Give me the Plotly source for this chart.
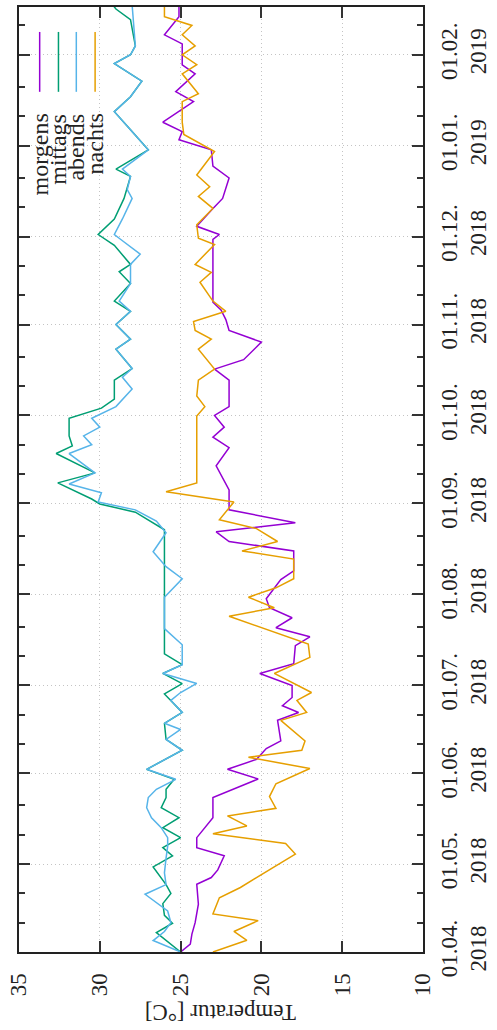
import pandas as pd
import plotly.graph_objects as go

START = "2018-04-01"
END = "2019-02-17 07:00"

# day offsets from START and temperatures (°C)
morgens_day = [0, 2.7, 6.1, 10, 16.3, 23.1, 25.4, 28, 32.8, 35.6, 39, 45.8, 52.7, 59, 62.3, 65.7, 69.4, 72, 79,
               81.7, 84, 86.8, 90.9, 95, 98.3, 104.5, 107.5, 110.6, 114, 117.4, 120.5, 127, 130, 136.8, 140,
               143.3, 146.4, 150.8, 157.6, 165.8, 172, 175.6, 179, 183, 186, 195, 198.8, 202, 208, 212, 215.7,
               219, 221.6, 243, 244.7, 247.5, 253, 257, 264, 268, 273.6, 277, 279.8, 283, 290, 293.4, 299.5,
               302.6, 309.7, 312.8, 319, 323]
morgens_temp = [25.0, 24.4, 24.3, 24.1, 23.9, 24.0, 23.1, 22.7, 22.3, 24.0, 24.0, 23.0, 23.0, 20.2, 22.1, 20.3,
                19.7, 18.8, 19.0, 17.7, 18.7, 18.1, 18.1, 20.1, 18.0, 17.9, 17.0, 19.1, 18.1, 19.5, 19.7, 18.8,
                18.0, 18.0, 22.0, 22.8, 17.9, 22.0, 22.0, 22.8, 22.0, 23.0, 22.3, 22.9, 22.0, 22.0, 22.9, 21.1,
                20.0, 22.0, 22.2, 22.5, 23.0, 23.0, 22.6, 24.0, 23.1, 22.4, 22.0, 23.0, 23.1, 25.1, 24.9, 26.1,
                24.2, 25.3, 24.1, 24.9, 24.9, 26.0, 25.1, 25.1]

mittags_day = [0, 6.6, 9.8, 12.5, 16.5, 20, 23, 29, 32.8, 35.6, 39, 42.4, 45.8, 49.2, 52.7, 55.5, 58.9, 62.3,
               68.8, 72.5, 78, 81.7, 88, 91.5, 95, 98, 101.7, 144, 150, 152.8, 154.5, 160, 163.4, 170, 172.6,
               176, 182, 185.5, 188.6, 195, 199, 205.6, 209, 214, 218.5, 222, 228, 232, 234.5, 241, 244.7, 250,
               257, 264.5, 267, 273.6, 280.4, 286.6, 291.7, 297, 303, 306, 309, 318, 321.6, 323]
mittags_temp = [25.0, 26.5, 25.5, 26.0, 26.1, 25.6, 25.9, 26.7, 25.5, 26.1, 25.0, 26.1, 25.1, 26.2, 25.9, 25.9,
                25.4, 27.1, 24.9, 25.9, 26.0, 24.9, 26.0, 24.9, 26.1, 24.9, 26.0, 26.0, 27.8, 30.0, 30.5, 32.6,
                30.3, 32.7, 31.7, 31.9, 31.9, 29.9, 29.1, 29.1, 28.0, 29.0, 28.1, 29.0, 28.1, 29.1, 28.1, 28.8,
                28.1, 29.1, 30.1, 29.1, 28.5, 28.1, 29.0, 27.0, 28.1, 29.1, 28.1, 27.4, 29.1, 28.1, 27.8, 28.1,
                29.0, 29.2]

abends_day = [0, 3.9, 7, 10, 14, 19.7, 23, 27, 32, 36, 39, 42.4, 45.8, 49.2, 52.7, 55.5, 58.9, 62.3, 68.8, 72.5,
              75.9, 78, 81.7, 85.8, 88.5, 91.6, 95, 98, 104.8, 110.3, 121, 127.3, 131.4, 136.5, 143, 147, 150.8,
              153.5, 156.6, 159.6, 163.4, 170, 173, 176, 179, 182, 186, 192, 196, 199, 205.6, 209, 214, 218.5,
              222, 228, 234.5, 238, 243, 244.7, 250, 257, 260, 264.5, 267, 273.6, 280.4, 286.6, 291.7, 297, 303,
              306, 309, 315, 321.6, 323]
abends_temp = [25.0, 26.7, 26.0, 25.6, 25.8, 27.2, 25.9, 26.0, 25.9, 25.8, 25.8, 26.2, 26.8, 27.1, 27.0, 26.5,
               25.3, 27.1, 24.9, 25.9, 25.0, 26.0, 24.9, 25.6, 25.0, 24.0, 26.1, 24.9, 24.9, 26.0, 26.0, 24.9,
               25.9, 26.7, 25.9, 26.5, 27.8, 30.1, 29.9, 31.9, 30.3, 31.9, 30.5, 31.0, 30.0, 30.5, 29.0, 28.0,
               28.6, 28.0, 29.0, 28.1, 29.0, 28.1, 28.8, 28.1, 28.1, 27.5, 28.7, 29.1, 28.6, 28.0, 28.3, 28.1,
               28.6, 27.0, 28.1, 29.1, 28.1, 27.4, 29.1, 28.1, 27.8, 27.9, 28.0, 28.0]

nachts_day = [0, 4, 7, 10.7, 13, 18.5, 22, 33.4, 37, 40.3, 43, 46.4, 49, 53, 57.4, 62.6, 66.4, 68.8, 72, 79, 81.7,
              85.8, 88.5, 95, 100.5, 105, 114.5, 117.4, 121, 124.2, 127.3, 134, 136.8, 140, 144.4, 147.4, 153.5,
              157, 160, 182.8, 186, 189.6, 195, 198.8, 205.6, 209, 212, 215, 218.5, 222, 228.4, 231.8, 234.5,
              241.3, 243.4, 248, 253.6, 257.7, 261, 265, 273, 278.8, 283, 290, 292.7, 299.5, 302.6, 306, 309,
              312.8, 316, 319, 323]
nachts_temp = [23.0, 20.9, 21.7, 20.2, 23.0, 22.6, 21.3, 17.9, 18.5, 23.0, 20.9, 22.1, 19.1, 19.5, 19.1, 17.0,
               20.8, 17.5, 17.3, 18.8, 17.2, 17.8, 16.9, 19.2, 17.0, 17.1, 22.0, 19.2, 20.8, 19.1, 18.0, 18.0,
               21.2, 19.0, 20.3, 22.6, 21.7, 25.9, 24.0, 24.0, 23.5, 24.0, 23.9, 22.9, 23.9, 23.1, 24.1, 24.2,
               22.2, 23.0, 23.8, 23.1, 24.1, 22.9, 23.9, 24.0, 23.0, 23.9, 23.2, 24.0, 22.9, 24.8, 24.9, 24.9,
               23.9, 24.9, 24.0, 24.9, 24.1, 24.9, 24.3, 26.0, 26.0]

series_names = ["morgens", "mittags", "abends", "nachts"]
series_colors = ["#9400d3", "#009e73", "#56b4e9", "#e69f00"]
temp_ticks = [35, 30, 25, 20, 15, 10]

FONT = "'Liberation Serif', 'DejaVu Serif', 'Times New Roman', serif"
W, H = 497, 1030
L, R, T, B = 19, 48, 5, 78
PW, PH = W - L - R, H - T - B


def to_dates(days):
    return pd.Timestamp(START) + pd.to_timedelta(days, unit="D")


data = [(morgens_day, morgens_temp), (mittags_day, mittags_temp),
        (abends_day, abends_temp), (nachts_day, nachts_temp)]

fig = go.Figure()
for name, color, (d, v) in zip(series_names, series_colors, data):
    fig.add_trace(go.Scatter(x=v, y=to_dates(d), mode="lines", name=name,
                             line=dict(color=color, width=1.5), showlegend=False))

months = pd.date_range(START, "2019-02-01", freq="MS")
major_vals = list(months)
major_text = [f"{m:%d.%m.}<br>{m:%Y}" for m in months]
minor_vals = []
for m in months:
    minor_vals += [m + pd.Timedelta(days=10), m + pd.Timedelta(days=20)]

axis_common = dict(showline=True, linecolor="#222", linewidth=2, mirror="allticks",
                   ticks="inside", ticklen=11, tickwidth=1.5, tickcolor="#333",
                   showgrid=True, gridcolor="#c4c4c4", griddash="1px,3px", gridwidth=1,
                   zeroline=False, tickfont=dict(family=FONT, size=23, color="#222"))

fig.update_layout(
    width=W, height=H, margin=dict(l=L, r=R, t=T, b=B),
    paper_bgcolor="white", plot_bgcolor="white",
    font=dict(family=FONT),
    xaxis=dict(range=[35, 10], tickmode="array", tickvals=temp_ticks,
               ticktext=[str(t) for t in temp_ticks], tickangle=-90, ticklabelstandoff=10,
               **axis_common),
    yaxis=dict(type="date", side="right", range=[START, END], tickmode="array",
               tickvals=major_vals, ticktext=major_text, tickangle=-90, ticklabelstandoff=4,
               minor=dict(tickmode="array", tickvals=minor_vals, ticks="inside", ticklen=6,
                          tickwidth=1.5, tickcolor="#333", showgrid=False),
               **axis_common),
)

# axis title (rotated like the page)
fig.add_annotation(text="Temperatur [°C]", textangle=180, xref="paper", yref="paper",
                   x=0.5, y=(952 - 1012) / PH, xanchor="center", yanchor="middle",
                   showarrow=False, font=dict(family=FONT, size=23, color="#222"))

# rotated legend
leg_x = [41, 61, 80, 100]
for name, color, px in zip(series_names, series_colors, leg_x):
    xp = (px - L) / PW
    fig.add_shape(type="line", xref="paper", yref="paper", x0=xp, x1=xp,
                  y0=(952 - 30) / PH, y1=(952 - 90) / PH, line=dict(color=color, width=1.5))
    fig.add_annotation(text=name, textangle=-90, xref="paper", yref="paper",
                       x=xp, y=(952 - 110) / PH, xanchor="center", yanchor="top",
                       showarrow=False, font=dict(family=FONT, size=24, color="#222"))

fig.write_html("out.html")
